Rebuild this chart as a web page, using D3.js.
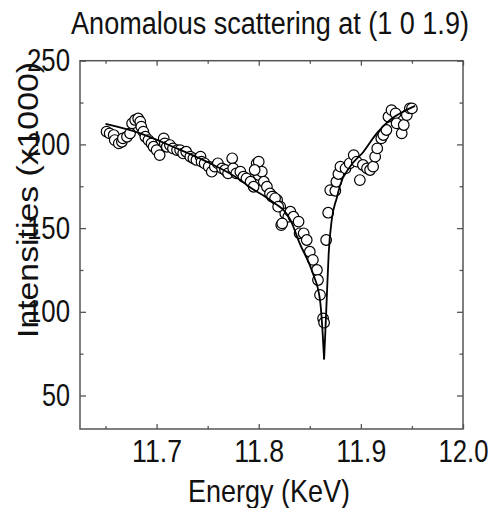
<!DOCTYPE html>
<html>
<head>
<meta charset="utf-8">
<script src="https://cdn.jsdelivr.net/npm/d3@7"></script>
<style>
  html, body { margin: 0; padding: 0; background: #fff; }
  svg { display: block; }
</style>
</head>
<body>
<svg id="chart"></svg>
<script>
// measured points (energy in KeV, intensity x1000)
const pointEnergy = [
  11.651, 11.654, 11.658, 11.659, 11.663, 11.666, 11.667, 11.671, 11.674, 11.676,
  11.679, 11.682, 11.684, 11.685, 11.687, 11.689, 11.692, 11.695, 11.697, 11.700,
  11.703, 11.707, 11.708, 11.710, 11.713, 11.716, 11.720, 11.723, 11.726, 11.729,
  11.733, 11.736, 11.739, 11.743, 11.744, 11.747, 11.751, 11.754, 11.757, 11.760,
  11.764, 11.767, 11.770, 11.774, 11.775, 11.778, 11.782, 11.785, 11.788, 11.792,
  11.795, 11.798, 11.800, 11.803, 11.805, 11.808, 11.811, 11.814, 11.818, 11.821,
  11.822, 11.826, 11.829, 11.800, 11.796, 11.813, 11.816, 11.819, 11.823, 11.831,
  11.834, 11.839, 11.840, 11.844, 11.847, 11.850, 11.853, 11.857, 11.858, 11.860,
  11.863, 11.864,
  11.866, 11.868, 11.870, 11.875, 11.876, 11.878, 11.880, 11.885, 11.889, 11.893,
  11.896, 11.899, 11.902, 11.906, 11.909, 11.912, 11.914, 11.916, 11.920, 11.922,
  11.925, 11.927, 11.930, 11.934, 11.935, 11.940, 11.942, 11.945, 11.948, 11.950
];
const pointIntensity = [
  207.6, 206.6, 205.6, 202.6, 200.6, 201.6, 203.6, 204.6, 206.6, 212.6,
  214.6, 215.5, 213.6, 210.6, 207.6, 204.6, 202.6, 200.6, 198.6, 196.6,
  193.6, 203.6, 200.6, 198.6, 199.6, 197.6, 196.6, 196.6, 194.6, 195.6,
  192.7, 191.7, 190.7, 192.7, 189.7, 188.7, 186.7, 183.7, 186.7, 188.7,
  185.7, 184.7, 182.7, 191.7, 185.7, 182.7, 183.7, 180.7, 179.7, 177.7,
  174.7, 188.7, 181.7, 183.7, 177.7, 174.7, 170.7, 168.8, 166.8, 162.8,
  151.8, 158.8, 156.8, 189.7, 184.7, 168.8, 167.8, 162.8, 152.8, 159.8,
  156.8, 153.9, 146.9, 146.9, 142.9, 135.9, 131.0, 125.0, 119.0, 110.1,
  96.1, 93.5,
  142.9, 159.2, 172.7, 172.3, 177.7, 182.3, 186.7, 185.7, 188.7, 193.6,
  189.7, 178.7, 187.7, 185.7, 184.7, 186.7, 192.7, 197.6, 203.6, 205.6,
  208.6, 216.5, 220.5, 218.5, 212.6, 206.6, 211.6, 217.5, 221.5, 221.5
];

// fitted curve, two branches meeting at the resonance
const fitLeftEnergy = [11.650, 11.684, 11.716, 11.749, 11.782, 11.791, 11.811, 11.831, 11.840, 11.853, 11.860, 11.8626, 11.864];
const fitLeftIntensity = [212.2, 206.6, 198.6, 189.7, 178.7, 174.5, 166.8, 154.9, 141.0, 123.0, 107.0, 87.0, 71.6];
const fitRightEnergy = [11.864, 11.8652, 11.8666, 11.8685, 11.8715, 11.8764, 11.8796, 11.8894, 11.9024, 11.9155, 11.9285, 11.9416, 11.953];
const fitRightIntensity = [71.6, 88.0, 108.0, 135.0, 155.0, 168.0, 175.5, 186.7, 195.5, 206.6, 214.6, 219.6, 223.0];

const energyTicks = [11.7, 11.8, 11.9, 12.0];
const energyMinor = [11.65, 11.75, 11.85, 11.95];
const intensityTicks = [50, 100, 150, 200, 250];
const intensityMinor = [75, 125, 175, 225];

const W = 493, H = 508;
const mLeft = 80, mRight = 463, mTop = 60.7, mBottom = 429;
const font = "'Liberation Sans', Arial, sans-serif";
const fs = 31;

const svg = d3.select('#chart')
  .attr('width', W)
  .attr('height', H)

// squeeze a text horizontally to a given width (the original text is condensed)
function squeeze(sel, width, pre) {
  sel.each(function () {
    const t = d3.select(this)
    const w = this.getComputedTextLength()
    const tx = +t.attr('x') || 0, ty = +t.attr('y') || 0
    const k = (typeof width === 'function' ? width(t.datum()) : width) / w
    t.attr('x', 0).attr('y', 0)
     .attr('transform', `${pre || ''} translate(${tx},${ty}) scale(${k},1)`)
  })
}

const x = d3.scaleLinear().domain([11.625, 12.0]).range([mLeft, mRight])
const y = d3.scaleLinear().domain([30, 250]).range([mBottom, mTop])

// axes (ticks point inward)
const gx = svg.append('g').attr('transform', `translate(0,${mBottom})`)
  .call(d3.axisBottom(x).tickValues(energyTicks).tickFormat(d3.format('.1f'))
    .tickSizeInner(-5).tickSizeOuter(0).tickPadding(11))
gx.append('g').call(d3.axisBottom(x).tickValues(energyMinor).tickFormat('')
    .tickSizeInner(-3).tickSizeOuter(0))

const gy = svg.append('g').attr('transform', `translate(${mLeft},0)`)
  .call(d3.axisLeft(y).tickValues(intensityTicks)
    .tickSizeInner(-6).tickSizeOuter(0).tickPadding(10))
gy.append('g').call(d3.axisLeft(y).tickValues(intensityMinor).tickFormat('')
    .tickSizeInner(-3.5).tickSizeOuter(0))

const gt = svg.append('g').attr('transform', `translate(0,${mTop})`)
gt.call(d3.axisTop(x).tickValues(energyTicks).tickFormat('').tickSizeInner(-5).tickSizeOuter(0))
gt.append('g').call(d3.axisTop(x).tickValues(energyMinor).tickFormat('').tickSizeInner(-3).tickSizeOuter(0))

const gr = svg.append('g').attr('transform', `translate(${mRight},0)`)
gr.call(d3.axisRight(y).tickValues(intensityTicks).tickFormat('').tickSizeInner(-6).tickSizeOuter(0))
gr.append('g').call(d3.axisRight(y).tickValues(intensityMinor).tickFormat('').tickSizeInner(-3.5).tickSizeOuter(0))

svg.selectAll('.domain').remove()
svg.selectAll('.tick line').attr('stroke', '#555').attr('stroke-width', 1.3)

svg.selectAll('g text')
  .attr('font-family', font)
  .attr('font-size', fs)
  .attr('fill', '#111')
squeeze(gx.selectAll('.tick text'), 50)
squeeze(gy.selectAll('.tick text'), d => d < 100 ? 28 : 43)

// frame
svg.append('rect')
  .attr('x', mLeft).attr('y', mTop)
  .attr('width', mRight - mLeft).attr('height', mBottom - mTop)
  .attr('fill', 'none')
  .attr('stroke', '#555')
  .attr('stroke-width', 1.5)

// data points
const pts = pointEnergy.map((e, i) => [e, pointIntensity[i]])
svg.append('g')
  .selectAll('circle')
  .data(pts)
  .enter()
  .append('circle')
    .attr('cx', d => x(d[0]))
    .attr('cy', d => y(d[1]))
    .attr('r', 5.3)
    .attr('fill', '#fff')
    .attr('stroke', '#000')
    .attr('stroke-width', 1.2)

// fit curve
const line = d3.line().x(d => x(d[0])).y(d => y(d[1])).curve(d3.curveMonotoneX)
const branches = [
  fitLeftEnergy.map((e, i) => [e, fitLeftIntensity[i]]),
  fitRightEnergy.map((e, i) => [e, fitRightIntensity[i]])
]
svg.append('g').selectAll('path')
  .data(branches)
  .enter()
  .append('path')
    .attr('d', line)
    .attr('fill', 'none')
    .attr('stroke', '#000')
    .attr('stroke-width', 1.8)

// titles
const title = svg.append('text')
  .attr('x', 270).attr('y', 34)
  .attr('text-anchor', 'middle')
  .attr('font-family', font).attr('font-size', fs).attr('fill', '#111')
  .text('Anomalous scattering at (1 0 1.9)')
squeeze(title, 398)

const xLabel = svg.append('text')
  .attr('x', 269).attr('y', 502)
  .attr('text-anchor', 'middle')
  .attr('font-family', font).attr('font-size', fs).attr('fill', '#111')
  .text('Energy (KeV)')
squeeze(xLabel, 162)

const yLabel = svg.append('text')
  .attr('text-anchor', 'middle')
  .attr('font-family', font).attr('font-size', 30).attr('fill', '#111')
  .text('Intensities (x1000)')
squeeze(yLabel, 276, 'translate(38,200) rotate(-90)')
</script>
</body>
</html>
